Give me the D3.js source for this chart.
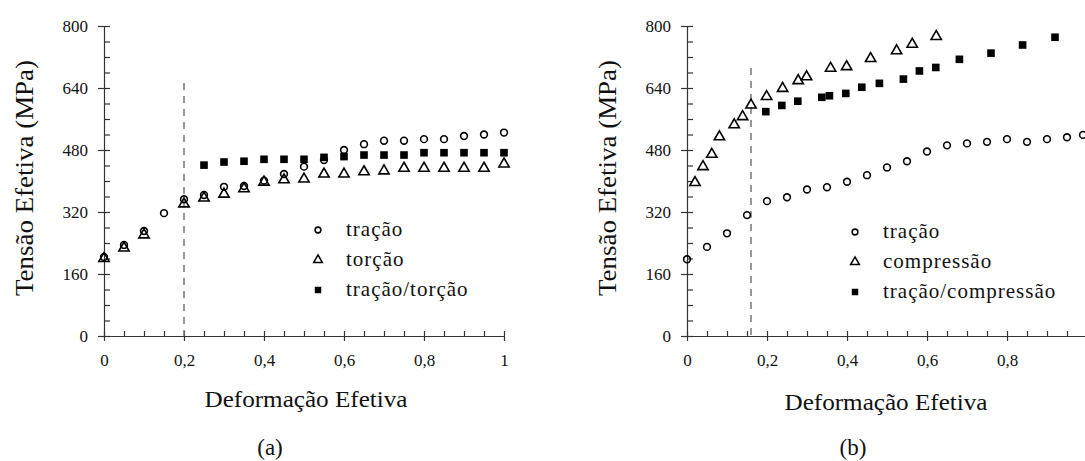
<!DOCTYPE html>
<html>
  <head>
    <script src="https://cdn.jsdelivr.net/npm/d3@7"></script>
    <style>
      body { margin: 0; background: #fff; }
    </style>
  </head>
  <body>
    <svg id="chart" width="1085" height="461"></svg>
    <script>
    // painel (a): tração x torção
    var strainA = [0,0.05,0.1,0.15,0.2,0.25,0.3,0.35,0.4,0.45,0.5,0.55,0.6,0.65,0.7,0.75,0.8,0.85,0.9,0.95,1.0];
    var tracaoA = [204,235,271,317,353,364,385,387,401,418,437,454,480,495,504,504,508,508,516,520,525];
    var torcaoStrain = [0,0.05,0.1,0.2,0.25,0.3,0.35,0.4,0.45,0.5,0.55,0.6,0.65,0.7,0.75,0.8,0.85,0.9,0.95,1.0];
    var torcaoA = [200,227,261,341,356,366,380,397,403,405,418,418,424,426,433,433,433,433,433,444];
    var combStrainA = [0.25,0.3,0.35,0.4,0.45,0.5,0.55,0.6,0.65,0.7,0.75,0.8,0.85,0.9,0.95,1.0];
    var tracaoTorcao = [441,449,451,456,456,456,461,463,467,467,467,473,473,473,473,473];

    // painel (b): tração x compressão
    var strainB = [0,0.05,0.1,0.15,0.2,0.25,0.3,0.35,0.4,0.45,0.5,0.55,0.6,0.65,0.7,0.75,0.8,0.85,0.9,0.95,0.99];
    var tracaoB = [198,230,265,312,348,358,378,384,398,415,435,451,476,492,497,501,508,501,508,513,519];
    var compStrain = [0.02,0.04,0.062,0.081,0.118,0.139,0.16,0.199,0.239,0.278,0.299,0.359,0.399,0.459,0.524,0.563,0.623];
    var compressao = [396,437,469,514,545,566,596,618,639,659,669,691,695,716,736,753,773];
    var combStrainB = [0.197,0.237,0.277,0.337,0.356,0.397,0.437,0.481,0.541,0.581,0.622,0.681,0.76,0.839,0.92];
    var tracaoCompressao = [579,595,606,616,620,626,642,652,663,684,693,714,730,751,771];

    var yMajor = [0,160,320,480,640,800];
    var yMinor = d3.range(0, 801, 40);
    var xMajorA = [0,0.2,0.4,0.6,0.8,1];
    var xMajorB = [0,0.2,0.4,0.6,0.8];
    var xMinor = d3.range(0, 1.001, 0.05);
    var fmt = function(d){ return String(+d.toFixed(1)).replace(".", ","); };
    var serif = "'Liberation Serif', 'Times New Roman', serif";

    var svg = d3.select("#chart");
    svg.append("rect").attr("width",1085).attr("height",461).attr("fill","#fff");

    function panel(opt){
      var x = d3.scaleLinear().domain([0,1]).range([opt.left, opt.left + 400]);
      var y = d3.scaleLinear().domain([0,800]).range([336, 26]);
      var g = svg.append("g");

      // ticks menores para dentro
      g.append("g").attr("transform","translate("+opt.left+",0)")
        .call(d3.axisRight(y).tickValues(yMinor).tickSize(6).tickFormat(""))
        .call(function(a){ a.select(".domain").remove(); });
      g.append("g").attr("transform","translate(0,336)")
        .call(d3.axisTop(x).tickValues(xMinor).tickSize(5).tickFormat(""))
        .call(function(a){ a.select(".domain").remove(); });

      g.append("g").attr("transform","translate("+opt.left+",0)")
        .call(d3.axisLeft(y).tickValues(yMajor).tickSize(6).tickSizeOuter(0).tickPadding(10));
      g.append("g").attr("transform","translate(0,336)")
        .call(d3.axisBottom(x).tickValues(opt.xTicks).tickSize(5).tickSizeOuter(0).tickPadding(13).tickFormat(fmt));
      g.selectAll(".domain, .tick line").attr("stroke", "#333").attr("stroke-width", 1.2);
      g.selectAll(".tick text").style("font-family", serif).style("font-size", "17px").attr("fill", "#111");

      // linha tracejada de mudança de trajetória
      g.append("line")
        .attr("x1", x(opt.dash)).attr("x2", x(opt.dash))
        .attr("y1", opt.dashTop).attr("y2", 336)
        .attr("stroke", "#777").attr("stroke-width", 1.5).attr("stroke-dasharray", "7,6");

      var circle = d3.symbol().type(d3.symbolCircle).size(36);
      var tri = d3.symbol().type(d3.symbolTriangle).size(46);
      var sq = d3.symbol().type(d3.symbolSquare).size(58);

      g.append("g").selectAll("path").data(opt.s3.x).enter().append("path")
        .attr("d", sq).attr("fill", "#000")
        .attr("transform", function(d,i){ return "translate("+x(d)+","+y(opt.s3.v[i])+")"; });
      g.append("g").selectAll("path").data(opt.s2.x).enter().append("path")
        .attr("d", tri).attr("fill", "none").attr("stroke", "#000").attr("stroke-width", 1.6)
        .attr("transform", function(d,i){ return "translate("+x(d)+","+y(opt.s2.v[i])+")"; });
      g.append("g").selectAll("path").data(opt.s1.x).enter().append("path")
        .attr("d", circle).attr("fill", "none").attr("stroke", "#000").attr("stroke-width", 1.6)
        .attr("transform", function(d,i){ return "translate("+x(d)+","+y(opt.s1.v[i])+")"; });

      // legenda
      var lg = g.append("g").attr("transform","translate("+opt.legend[0]+","+opt.legend[1]+")");
      var syms = [circle, tri, sq];
      opt.names.forEach(function(n, i){
        lg.append("path").attr("d", syms[i])
          .attr("transform","translate(0,"+(i*30)+") scale(0.85)")
          .attr("fill", i == 2 ? "#000" : "none").attr("stroke", "#000").attr("stroke-width", i == 2 ? 0 : 1.8);
        lg.append("text").attr("x", 28).attr("y", i*30 + 6)
          .style("font-family", serif).style("font-size", "21px").attr("letter-spacing", 1).attr("fill", "#111")
          .text(n);
      });

      // títulos
      g.append("text").attr("x", opt.xTitle[0]).attr("y", opt.xTitle[1])
        .attr("text-anchor","middle").style("font-family", serif).style("font-size", "23px").attr("fill", "#111")
        .attr("textLength", 203).attr("lengthAdjust", "spacingAndGlyphs")
        .text("Deformação Efetiva");
      g.append("text").attr("transform","translate("+(opt.left - 71)+",178) rotate(-90)")
        .attr("text-anchor","middle").style("font-family", serif).style("font-size", "25px").attr("fill", "#111")
        .attr("textLength", 236).attr("lengthAdjust", "spacingAndGlyphs")
        .text("Tensão Efetiva (MPa)");
      g.append("text").attr("x", opt.label[0]).attr("y", 455)
        .attr("text-anchor","middle").style("font-family", serif).style("font-size", "23px").attr("fill", "#111")
        .text(opt.label[1]);
    }

    panel({
      left: 104, xTicks: xMajorA, dash: 0.2, dashTop: 83,
      s1: {x: strainA, v: tracaoA}, s2: {x: torcaoStrain, v: torcaoA}, s3: {x: combStrainA, v: tracaoTorcao},
      names: ["tração", "torção", "tração/torção"], legend: [318, 230],
      xTitle: [306, 407], label: [270, "(a)"]
    });
    panel({
      left: 687, xTicks: xMajorB, dash: 0.16, dashTop: 68,
      s1: {x: strainB, v: tracaoB}, s2: {x: compStrain, v: compressao}, s3: {x: combStrainB, v: tracaoCompressao},
      names: ["tração", "compressão", "tração/compressão"], legend: [855, 232],
      xTitle: [886, 410], label: [853, "(b)"]
    });
    </script>
  </body>
</html>
